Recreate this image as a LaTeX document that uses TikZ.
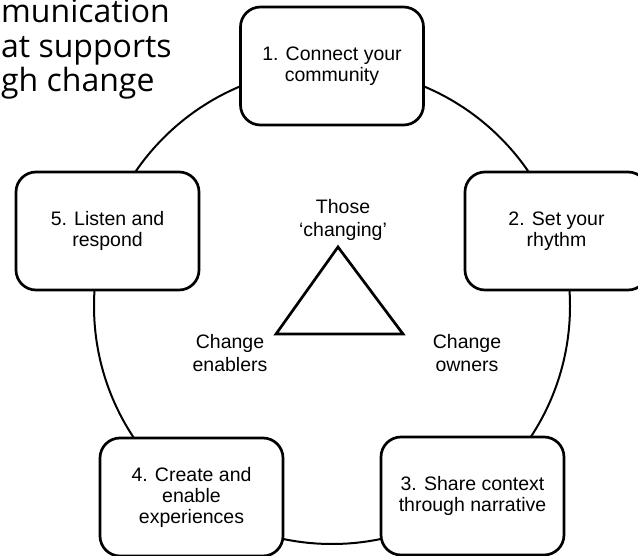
\documentclass[tikz,border=0pt]{standalone}
\usepackage{fontspec}
\setmainfont{Liberation Sans}
\newfontfamily\titlefont{Open Sans}
\begin{document}
\begin{tikzpicture}[x=1pt,y=-1pt,
  stepbox/.style={draw, fill=white, line width=2.7pt, rounded corners=20pt,
    minimum width=183pt, minimum height=118pt, align=center, inner sep=0pt,
    font=\fontsize{19.5}{21}\selectfont},
  lbl/.style={align=center, inner sep=0pt, font=\fontsize{19.5}{23.5}\selectfont},
  ttl/.style={anchor=base west, inner sep=0pt, font=\titlefont\fontsize{32}{33}\selectfont}
]
\useasboundingbox (0,0) rectangle (638,556);
\clip (0,0) rectangle (638,556);
\fill[white] (0,0) rectangle (638,556);

% title fragments
\node[ttl] (t1) at (1,23) {munication};
\node[ttl] (t2) at (1,57.5) {at supports};
\node[ttl] (t3) at (1,92) {gh change};

% cycle
\coordinate (c) at (332,306);
\draw[line width=2pt] (c) circle[radius=238];

\node[stepbox] (b1) at (332,66) {1. Connect your\\community};
\node[stepbox] (b2) at (556.5,231) {2. Set your\\rhythm};
\node[stepbox] (b3) at (472.5,496) {3. Share context\\through narrative};
\node[stepbox] (b4) at (191.5,497) {4. Create and\\enable\\experiences};
\node[stepbox] (b5) at (107.5,231) {5. Listen and\\respond};

% triangle
\coordinate (ta) at (338,247);
\coordinate (tl) at (276,334);
\coordinate (tr) at (403,334);
\draw[line width=2.7pt, line join=miter] (ta) -- (tl) -- (tr) -- cycle;

\node[lbl] (those) at (343,220) {Those\\‘changing’};
\node[lbl] (en) at (230,353) {Change\\enablers};
\node[lbl] (ow) at (467,353) {Change\\owners};
\end{tikzpicture}
\end{document}
